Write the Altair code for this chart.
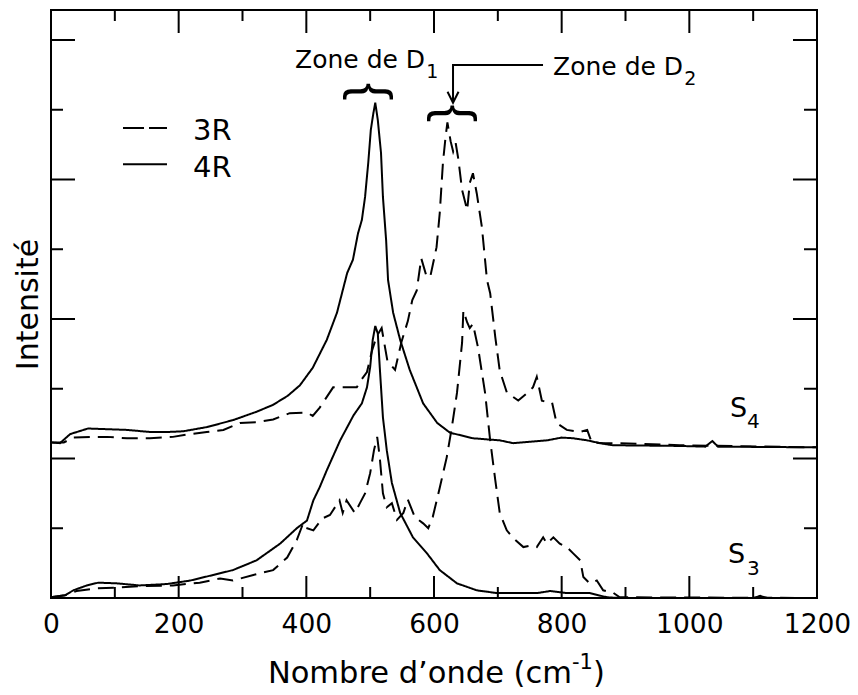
import altair as alt
import pandas as pd

# ---------------- data ----------------
# S4, 3R (dashed, upper)
s4_3r_x = [0, 20, 35, 61, 88, 119, 155, 191, 218, 244, 270, 296, 322, 348, 374, 401, 410, 421, 442, 463,
           479, 484, 495, 503, 510, 518, 527, 539, 549, 559, 566, 573, 580, 588, 594, 604, 609, 614, 618, 621,
           626, 630, 634, 638, 644, 652, 656, 661, 667, 675, 683, 688, 696, 703, 714, 732, 745, 755, 761, 769,
           776, 785, 792, 808, 829, 840, 847, 865, 891, 985, 1200]
s4_3r_y = [2.23, 2.23, 2.30, 2.31, 2.31, 2.29, 2.29, 2.31, 2.35, 2.38, 2.41, 2.51, 2.52, 2.56, 2.65, 2.66, 2.61, 2.73, 3.02, 3.02,
           3.02, 3.10, 3.24, 3.55, 3.75, 3.87, 3.40, 3.27, 3.67, 3.97, 4.27, 4.41, 4.87, 4.62, 4.60, 5.03, 5.52, 6.24, 6.60, 6.82,
           6.55, 6.40, 6.52, 6.30, 5.85, 5.56, 5.95, 6.09, 5.80, 5.32, 4.56, 4.37, 3.74, 3.26, 2.95, 2.83, 2.93, 3.02, 3.17, 2.83,
           2.81, 2.80, 2.51, 2.41, 2.38, 2.41, 2.23, 2.22, 2.22, 2.19, 2.16]

# S4, 4R (solid, upper)
s4_4r_x = [0, 14, 30, 58, 88, 119, 155, 182, 207, 244, 285, 322, 348, 371, 390, 410, 432, 448, 464, 473,
           481, 487, 492, 497, 501, 505, 508, 512, 517, 520, 525, 528, 536, 547, 562, 583, 605, 625, 661, 703,
           724, 777, 800, 818, 840, 860, 880, 985, 1025, 1036, 1045, 1200]
s4_4r_y = [2.23, 2.22, 2.35, 2.43, 2.42, 2.41, 2.38, 2.38, 2.39, 2.45, 2.55, 2.67, 2.77, 2.90, 3.05, 3.30, 3.70, 4.09, 4.66, 4.85,
           5.23, 5.42, 5.75, 6.24, 6.71, 6.95, 7.10, 6.85, 6.38, 5.75, 5.13, 4.56, 4.09, 3.70, 3.27, 2.79, 2.51, 2.37, 2.29, 2.26,
           2.22, 2.26, 2.30, 2.29, 2.26, 2.22, 2.19, 2.18, 2.17, 2.25, 2.17, 2.16]

# S3, 3R (dashed, lower)
s3_3r_x = [0, 22, 40, 72, 103, 139, 191, 233, 265, 285, 317, 348, 370, 385, 395, 398, 411, 425, 437, 452,
           457, 463, 476, 484, 492, 500, 506, 511, 515, 520, 526, 534, 542, 552, 559, 570, 583, 591, 598, 609,
           620, 628, 636, 644, 646, 652, 656, 661, 669, 680, 688, 696, 703, 714, 724, 740, 750, 761, 771, 777,
           787, 797, 808, 818, 829, 834, 844, 855, 865, 880, 891, 1200]
s3_3r_y = [0.01, 0.04, 0.10, 0.14, 0.15, 0.17, 0.18, 0.22, 0.28, 0.25, 0.33, 0.40, 0.58, 0.83, 1.07, 1.01, 0.97, 1.14, 1.19, 1.40,
           1.22, 1.40, 1.22, 1.36, 1.50, 1.79, 2.12, 2.31, 2.02, 1.50, 1.30, 1.36, 1.12, 1.22, 1.41, 1.16, 1.07, 1.00, 1.16, 1.58,
           2.02, 2.45, 2.94, 3.66, 4.12, 3.95, 3.87, 3.93, 3.59, 2.94, 2.26, 1.69, 1.22, 0.97, 0.86, 0.73, 0.75, 0.73, 0.87, 0.78,
           0.87, 0.78, 0.73, 0.64, 0.54, 0.30, 0.21, 0.25, 0.11, 0.08, 0.01, 0.0]

# S3, 4R (solid, lower)
s3_4r_x = [0, 22, 35, 56, 74, 103, 139, 181, 218, 254, 285, 322, 359, 385, 401, 411, 421, 432, 453, 474,
           487, 495, 500, 504, 508, 512, 515, 520, 526, 534, 547, 567, 589, 609, 636, 667, 699, 724, 761, 782,
           808, 844, 871, 891, 1100, 1111, 1122, 1200]
s3_4r_y = [0.01, 0.04, 0.11, 0.18, 0.22, 0.21, 0.18, 0.20, 0.25, 0.33, 0.40, 0.54, 0.78, 1.00, 1.11, 1.40, 1.59, 1.83, 2.26, 2.62,
           2.79, 3.02, 3.31, 3.70, 3.90, 3.79, 3.31, 2.59, 2.12, 1.65, 1.22, 0.87, 0.64, 0.40, 0.21, 0.11, 0.07, 0.07, 0.07, 0.10,
           0.07, 0.07, 0.01, 0.0, 0.0, 0.03, 0.0, 0.0]

x_tick_labels = [0, 200, 400, 600, 800, 1000, 1200]
x_major = [200, 400, 600, 800, 1000]
x_minor = [100, 300, 500, 700, 900, 1100]
y_major = [2, 4, 6, 8]
y_minor = [1, 3, 5, 7]

x_title_parts = ["Nombre d’onde (cm", "-1", ")"]

legend_names = ["3R", "4R"]
legend_line_x = [112.8, 181.7]
legend_line_y = [6.739, 6.22]
legend_text_x = [222.5, 222.5]
legend_text_y = [6.567, 6.04]

zone_text = ["Zone de D", "Zone de D"]
zone_x = [382.3, 786.5]
zone_y = [7.60, 7.50]
zone_sub = ["1", "2"]
zone_sub_x = [588.0, 992.0]
zone_sub_y = [7.45, 7.355]
brace_x = [499.8, 631.4]
brace_y = [7.26, 6.95]
arrow_x = [770.8, 629.8, 629.8]
arrow_y = [7.643, 7.643, 7.12]
arrow_tip = (629.8, 7.10)

s_labels = ["S", "S"]
s_x = [1063.7, 1060.6]
s_y = [2.59, 0.497]
s_sub = ["4", "3"]
s_sub_x = [1090.4, 1090.4]
s_sub_y = [2.435, 0.326]

# ---------------- build ----------------
W, H = 766, 588
FONT = "DejaVu Sans"

def series(xs, ys, curve, style):
    return pd.DataFrame({"x": xs, "y": ys, "curve": curve, "style": style})

curves = pd.concat([
    series(s4_3r_x, s4_3r_y, "S4-3R", "3R"),
    series(s4_4r_x, s4_4r_y, "S4-4R", "4R"),
    series(s3_3r_x, s3_3r_y, "S3-3R", "3R"),
    series(s3_4r_x, s3_4r_y, "S3-4R", "4R"),
])

xs = alt.Scale(domain=[0, 1200], nice=False, zero=False)
ys = alt.Scale(domain=[0, 8.43], nice=False, zero=False)
xaxis = alt.Axis(values=x_tick_labels, format="d", ticks=False, domain=False, grid=False,
                 labelFontSize=26.5, labelFont=FONT, labelColor="black", labelPadding=13,
                 labelFlush=False, labelOverlap=False, title="")
yaxis = alt.Axis(labels=False, ticks=False, domain=False, grid=False,
                 title="Intensité", titleFont=FONT, titleFontSize=30,
                 titleFontWeight="normal", titleColor="black", titlePadding=8)
X = alt.X("x:Q", scale=xs, axis=xaxis)
Y = alt.Y("y:Q", scale=ys, axis=yaxis)

lines = alt.Chart(curves).mark_line(color="black", strokeWidth=2).encode(
    x=X, y=Y, detail="curve:N",
    strokeDash=alt.StrokeDash("style:N", scale=alt.Scale(domain=["3R", "4R"], range=[[16, 8], [1, 0]]), legend=None),
)

def xticks(vals, y0, y1):
    return alt.Chart(pd.DataFrame({"x": vals})).mark_rule(color="black", strokeWidth=2).encode(
        x=X, y=alt.value(y0), y2=alt.value(y1))

def yticks(vals, x0, x1):
    return alt.Chart(pd.DataFrame({"y": vals})).mark_rule(color="black", strokeWidth=2).encode(
        y=Y, x=alt.value(x0), x2=alt.value(x1))

ticks = [
    xticks(x_major, H, H - 22), xticks(x_minor, H, H - 11),
    xticks(x_major, 0, 23), xticks(x_minor, 0, 11),
    yticks(y_major, 0, 24), yticks(y_minor, 0, 12),
    yticks(y_major, W, W - 24), yticks(y_minor, W, W - 13),
]

# x-axis title built from parts so that the superscript matches the original
def title_part(text, px, py, size, align):
    return alt.Chart(pd.DataFrame({"t": [text]})).mark_text(
        align=align, baseline="alphabetic", font=FONT, fontSize=size, color="black"
    ).encode(x=alt.value(px), y=alt.value(py), text="t:N")

xtitle = [
    title_part(x_title_parts[0], 521, 673, 30.5, "right"),
    title_part(x_title_parts[1], 521, 659, 21, "left"),
    title_part(x_title_parts[2], 542, 673, 30.5, "left"),
]

leg3 = alt.Chart(pd.DataFrame({"x": legend_line_x, "y": [legend_line_y[0]] * 2})).mark_line(
    color="black", strokeWidth=2, strokeDash=[21, 5]).encode(x=X, y=Y)
leg4 = alt.Chart(pd.DataFrame({"x": legend_line_x, "y": [legend_line_y[1]] * 2})).mark_line(
    color="black", strokeWidth=2).encode(x=X, y=Y)

def texts(xv, yv, tv, size, **kw):
    return alt.Chart(pd.DataFrame({"x": xv, "y": yv, "t": tv})).mark_text(
        align="left", baseline="alphabetic", font=FONT, fontSize=size, color="black", **kw
    ).encode(x=X, y=Y, text="t:N")

leg_txt = texts(legend_text_x, legend_text_y, legend_names, 29)
zone_main = texts(zone_x, zone_y, zone_text, 25)
zone_subs = texts(zone_sub_x, zone_sub_y, zone_sub, 19)
s_main = texts(s_x, s_y, s_labels, 27)
s_subs = texts(s_sub_x, s_sub_y, s_sub, 20)

braces = alt.Chart(pd.DataFrame({"x": brace_x, "y": brace_y, "t": ["{", "{"]})).mark_text(
    align="center", baseline="middle", angle=90, font="Liberation Sans", fontSize=53, color="black"
).encode(x=X, y=Y, text="t:N")

arrow = alt.Chart(pd.DataFrame({"x": arrow_x, "y": arrow_y, "o": [0, 1, 2]})).mark_line(
    color="black", strokeWidth=2).encode(x=X, y=Y, order="o:Q")
head = alt.Chart(pd.DataFrame({"x": [arrow_tip[0]], "y": [arrow_tip[1]]})).mark_point(
    shape="M-0.5,-1L0,0L0.5,-1", size=484, filled=False, color="black", strokeWidth=2, opacity=1
).encode(x=X, y=Y)

chart = alt.layer(
    lines, *ticks, *xtitle, leg3, leg4, leg_txt, zone_main, zone_subs, s_main, s_subs, braces, arrow, head
).properties(
    width=W, height=H,
    autosize=alt.AutoSizeParams(type="none"),
    padding={"left": 43, "top": 2, "right": 33, "bottom": 92},
).configure_view(stroke="black", strokeWidth=2)

chart.save("out.html", embed_options={"renderer": "svg", "actions": False})
